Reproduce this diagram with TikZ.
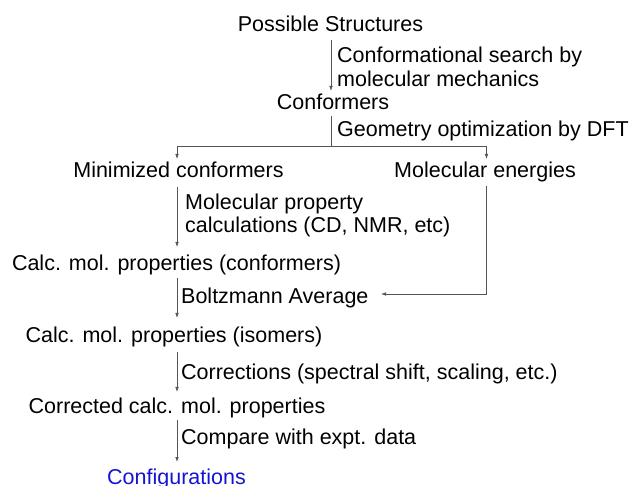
\documentclass[tikz,border=0pt]{standalone}
\usepackage{fontspec}
\setmainfont{Liberation Sans}
\usetikzlibrary{arrows.meta,calc}
\definecolor{lncol}{RGB}{85,85,85}
\definecolor{cfgcol}{RGB}{20,20,210}
\begin{document}
\begin{tikzpicture}[x=1pt,y=-1pt,
  txt/.style={inner sep=0pt, anchor=base, font=\fontsize{21.5}{25}\selectfont},
  lbl/.style={txt, anchor=base west},
  conn/.style={draw=lncol, line width=0.8pt},
  arr/.style={conn, -{Latex[length=5pt,width=3.6pt]}}]
\useasboundingbox (0,0) rectangle (635,486);
% nodes
\node[txt] (ps) at (330.5,32) {Possible Structures};
\node[lbl] (la1) at (337,63) {Conformational search by};
\node[lbl] (la2) at (337,87) {molecular mechanics};
\node[txt] (cf) at (333,110) {Conformers};
\node[lbl] (lb) at (337,137) {Geometry optimization by DFT};
\node[txt] (mc) at (178.5,178) {Minimized conformers};
\node[txt] (me) at (485,178) {Molecular energies};
\node[lbl] (lc1) at (185,209.5) {Molecular property};
\node[lbl] (lc2) at (185,232.5) {calculations (CD, NMR, etc)};
\node[txt] (c1) at (176.5,271) {Calc. mol. properties (conformers)};
\node[lbl] (bz) at (181,304) {Boltzmann Average};
\node[txt] (c2) at (174,343) {Calc. mol. properties (isomers)};
\node[lbl] (cr) at (181,379.5) {Corrections (spectral shift, scaling, etc.)};
\node[txt] (cc) at (177,413.5) {Corrected calc. mol. properties};
\node[lbl] (cp) at (181,445) {Compare with expt. data};
\node[txt, text=cfgcol] (cg) at (176.5,484) {Configurations};
% helper coordinates
\coordinate (j)  at ($(cf.base)+(-2,36)$);
\coordinate (jl) at ($(mc.base)+(-1.5,-32)$);
\coordinate (jr) at ($(me.base)+(1.5,-32)$);
\coordinate (btip) at ($(bz.base west)+(200,-10)$);
% connectors
\draw[arr] ($(ps.base)+(0.5,8)$) -- ($(cf.base)+(-2,-19)$);
\draw[conn] ($(cf.base)+(-2,6)$) -- (j);
\draw[conn] (jl) -- (jr);
\draw[arr] (jl) -- ($(mc.base)+(-1.5,-19)$);
\draw[arr] (jr) -- ($(me.base)+(1.5,-19)$);
\draw[arr] ($(mc.base)+(-1.5,9)$) -- ($(c1.base)+(0.5,-24)$);
\draw[arr] ($(me.base)+(1.5,8)$) |- (btip);
\draw[arr] ($(c1.base)+(0.5,7)$) -- ($(c2.base)+(3,-25)$);
\draw[arr] ($(c2.base)+(3,9)$) -- ($(cc.base)+(0,-21.5)$);
\draw[arr] ($(cc.base)+(0,6.5)$) -- ($(cg.base)+(0.5,-22)$);
\end{tikzpicture}
\end{document}
